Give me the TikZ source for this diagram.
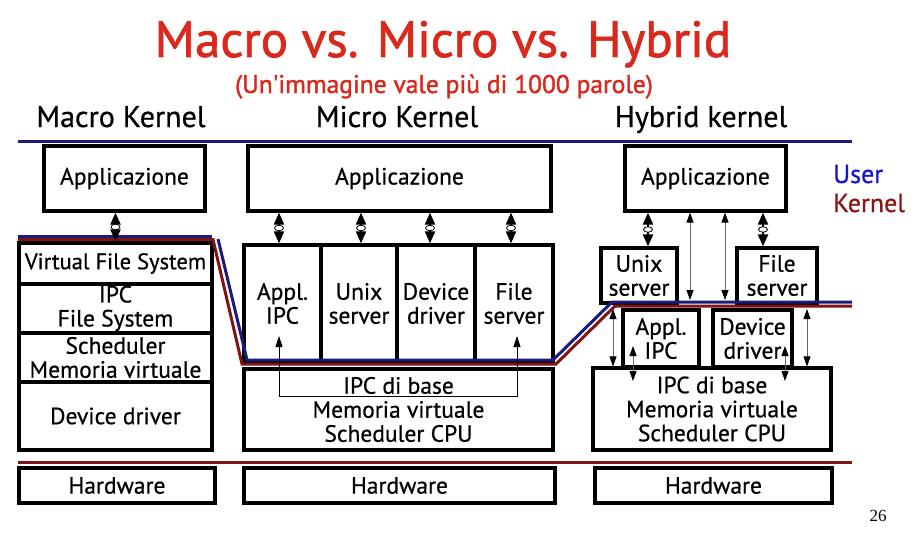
\documentclass[tikz,border=0pt]{standalone}
\usepackage{fontspec}
\setmainfont{PT Sans}[FakeBold=0.6]
\newfontfamily\titlefont{PT Sans}[FakeBold=1.4]
\newfontfamily\numfont{Liberation Serif}
\usetikzlibrary{arrows.meta,shapes.geometric}
\definecolor{titlered}{RGB}{218,40,28}
\definecolor{navyline}{RGB}{28,26,122}
\definecolor{kernred}{RGB}{126,20,22}
\definecolor{userblue}{RGB}{20,20,215}
\definecolor{kerneltxt}{RGB}{140,22,22}
% box from corner (x1,y1) to (x2,y2), y grows downwards
\newcommand\kbox[6]{\node[box,minimum width={(#4)-(#2)},minimum height={(#5)-(#3)}] (#1) at ({((#2)+(#4))/2},{((#3)+(#5))/2}) {#6};}
\begin{document}
\begin{tikzpicture}[x=1pt,y=-1pt,
  box/.style={draw, line width=3.2pt, fill=white, inner sep=0pt, align=center,
    font=\fontsize{23.5}{24}\selectfont},
  heading/.style={anchor=base, font=\fontsize{30}{32}\selectfont},
  userline/.style={draw=navyline, line width=3pt},
  kernline/.style={draw=kernred, line width=3pt},
  eyearrow/.style={line width=2.2pt,
    {Triangle[width=10pt,length=12pt]}-{Triangle[width=10pt,length=12pt]}},
  eyeball/.style={ellipse, draw, fill=white, line width=0.8pt, inner sep=0pt,
    minimum width=9pt, minimum height=5.5pt,
    path picture={\fill (path picture bounding box.center) circle (1.2pt);}},
  thinarrow/.style={draw=black!60, line width=0.9pt,
    {Triangle[width=7pt,length=10pt,color=black]}-{Triangle[width=7pt,length=10pt,color=black]}},
  ipcline/.style={draw=black, line width=0.8pt,
    {Triangle[width=7pt,length=11pt]}-{Triangle[width=7pt,length=11pt]}}
]
\useasboundingbox[fill=white] (0,0) rectangle (921,543);

% titles
\node[anchor=base, text=titlered, font=\titlefont\fontsize{51}{54}\selectfont] (title) at (443,57) {Macro vs. Micro vs. Hybrid};
\node[anchor=base, text=titlered, font=\titlefont\fontsize{25.5}{27}\selectfont] (subtitle) at (444,93) {(Un\symbol{39}immagine vale più di 1000 parole)};
\node[heading] (hmacro) at (121,127) {Macro Kernel};
\node[heading] (hmicro) at (397,127) {Micro Kernel};
\node[heading] (hhybrid) at (701,127) {Hybrid kernel};
\node[anchor=base west, inner sep=0pt, text=userblue, font=\fontsize{26}{28}\selectfont] (luser) at (833,183) {User};
\node[anchor=base west, inner sep=0pt, text=kerneltxt, font=\fontsize{26}{28}\selectfont] (lkernel) at (833,212) {Kernel};
\node[anchor=base, font=\numfont\fontsize{17}{19}\selectfont] (page) at (878,521) {26};

% macro kernel
\kbox{mapp}{44}{146}{205}{211}{Applicazione}
\kbox{vfs}{19}{243}{212}{284}{\fontsize{22.5}{24}\selectfont Virtual File System}
\kbox{ipcfs}{19}{284}{212}{333}{IPC\\File System}
\kbox{msched}{19}{333}{212}{382}{Scheduler\\Memoria virtuale}
\kbox{mdd}{19}{382}{212}{450}{Device driver}
\kbox{mhw}{19}{468}{215}{503}{Hardware}

% micro kernel
\kbox{uapp}{248}{146}{551}{211}{Applicazione}
\kbox{s1}{244}{245}{321}{362}{Appl.\\IPC}
\kbox{s2}{321}{245}{397}{362}{Unix\\server}
\kbox{s3}{397}{245}{475}{362}{Device\\driver}
\kbox{s4}{475}{245}{553}{362}{File\\server}
\kbox{ukern}{244}{369}{553}{450}{IPC di base\\Memoria virtuale\\Scheduler CPU}
\kbox{uhw}{244}{468}{555}{503}{Hardware}

% hybrid kernel
\kbox{happ}{625}{146}{786}{211}{Applicazione}
\kbox{hunix}{601}{248}{677}{303}{Unix\\server}
\kbox{hfile}{737}{248}{817}{303}{File\\server}
\kbox{hipc}{623}{310}{699}{367}{Appl.\\IPC}
\kbox{hdd}{713}{310}{792}{367}{Device\\driver}
\kbox{hkern}{593}{368}{831}{450}{IPC di base\\Memoria virtuale\\Scheduler CPU}
\kbox{hhw}{595}{468}{832}{503}{Hardware}

% user / kernel boundaries
\coordinate (topL) at (18,141);  \coordinate (topR) at (852,141);
\coordinate (botL) at (18,462);  \coordinate (botR) at (852,462);
\draw[userline] (topL) -- (topR);
\draw[kernline] (botL) -- (botR);
\draw[userline] (18,236) -- (212,236);
\draw[userline] (218,239) -- (247,360) -- (553,360) -- (612,302) -- (852,302);
\draw[kernline] (18,239.5) -- (213,239.5) -- (242,364) -- (556,364) -- (615,306) -- (852,306);

% arrow positions
\coordinate (u1) at (279,0); \coordinate (u2) at (361,0);
\coordinate (u3) at (430,0); \coordinate (u4) at (511,0);
\coordinate (h1) at (648,0); \coordinate (h2) at (690,0);
\coordinate (h3) at (725,0); \coordinate (h4) at (763,0);
\coordinate (h5) at (613,0); \coordinate (h6) at (807,0);
\coordinate (uline) at (0,300); \coordinate (kline) at (0,309);

% macro call
\draw[eyearrow] (vfs.north |- mapp.south) -- node[eyeball]{} (vfs.north);
% micro calls
\draw[eyearrow] (u1 |- uapp.south) -- node[eyeball]{} (u1 |- s1.north);
\draw[eyearrow] (u2 |- uapp.south) -- node[eyeball]{} (u2 |- s2.north);
\draw[eyearrow] (u3 |- uapp.south) -- node[eyeball]{} (u3 |- s3.north);
\draw[eyearrow] (u4 |- uapp.south) -- node[eyeball]{} (u4 |- s4.north);
\coordinate (ipcA) at (279,336); \coordinate (ipcB) at (517,336);
\draw[ipcline] (ipcA) -- (ipcA |- 0,396) -- (ipcB |- 0,396) -- (ipcB);
% hybrid calls
\draw[eyearrow] (h1 |- happ.south) -- node[eyeball]{} (h1 |- hunix.north);
\draw[eyearrow] (h4 |- happ.south) -- node[eyeball]{} (h4 |- hfile.north);
\draw[thinarrow] (h2 |- happ.south) -- (h2 |- uline);
\draw[thinarrow] (h3 |- happ.south) -- (h3 |- uline);
\draw[thinarrow] (h5 |- kline) -- (h5 |- hkern.north);
\draw[thinarrow] (h6 |- kline) -- (h6 |- hkern.north);
\coordinate (ha) at (633,346); \coordinate (hb) at (633,381);
\coordinate (hc) at (785,346); \coordinate (hd) at (785,381);
\draw[thinarrow] (ha) -- (hb);
\draw[thinarrow] (hc) -- (hd);
\end{tikzpicture}
\end{document}
